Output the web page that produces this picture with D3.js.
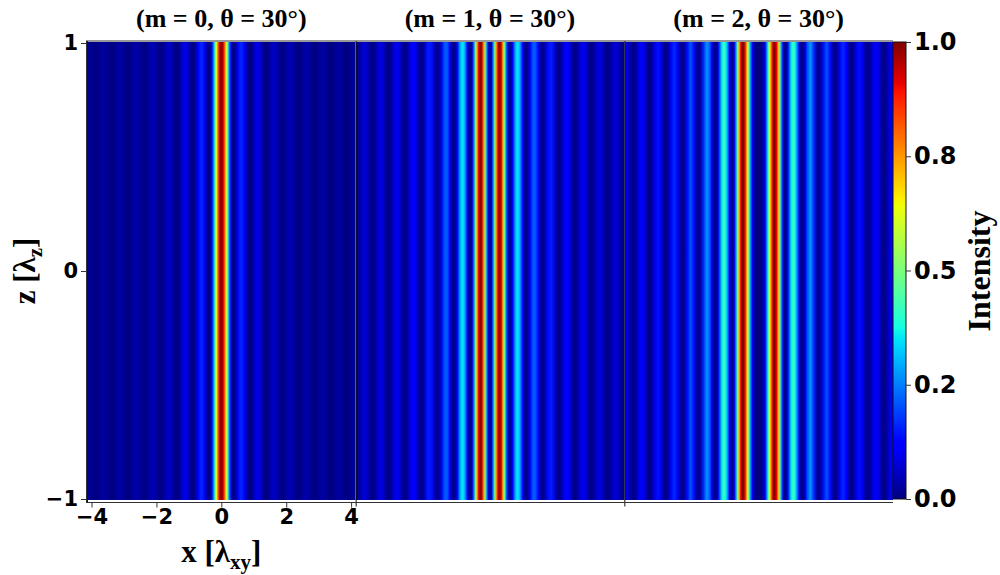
<!DOCTYPE html>
<html>
<head>
<meta charset="utf-8">
<script src="https://cdn.jsdelivr.net/npm/d3@7"></script>
<style>
  body { margin: 0; background: #fff; }
  svg { display: block; }
  .tick text { font-family: "DejaVu Sans"; font-weight: bold; font-size: 21px; fill: #000; }
  .serif { font-family: "Liberation Serif"; font-weight: bold; fill: #000; }
</style>
</head>
<body>
<script>
// sample positions across the beam, in lambda_xy
var xs = [
  -4.2, -4.1, -4.0, -3.9, -3.8, -3.7, -3.6, -3.5, -3.4, -3.3,
  -3.2, -3.1, -3.0, -2.9, -2.8, -2.7, -2.6, -2.5, -2.4, -2.3,
  -2.2, -2.1, -2.0, -1.9, -1.8, -1.7, -1.6,
  -1.5, -1.45, -1.4, -1.35, -1.3, -1.25, -1.2, -1.15, -1.1, -1.05,
  -1.0, -0.95, -0.9, -0.85, -0.8, -0.75, -0.7, -0.65, -0.6, -0.55,
  -0.5, -0.45, -0.4, -0.35, -0.3, -0.25, -0.2, -0.15, -0.1, -0.05,
  0,
  0.05, 0.1, 0.15, 0.2, 0.25, 0.3, 0.35, 0.4, 0.45, 0.5,
  0.55, 0.6, 0.65, 0.7, 0.75, 0.8, 0.85, 0.9, 0.95, 1.0,
  1.05, 1.1, 1.15, 1.2, 1.25, 1.3, 1.35, 1.4, 1.45, 1.5,
  1.6, 1.7, 1.8, 1.9, 2.0, 2.1, 2.2, 2.3, 2.4, 2.5,
  2.6, 2.7, 2.8, 2.9, 3.0, 3.1, 3.2, 3.3, 3.4, 3.5,
  3.6, 3.7, 3.8, 3.9, 4.0, 4.1, 4.2
];

// normalised intensity read across each panel (same at every z)
var intensityM0 = [
  0.019, 0.024, 0.013, 0.001, 0.006, 0.022, 0.027, 0.014, 0.001, 0.006,
  0.025, 0.032, 0.017, 0.001, 0.008, 0.030, 0.038, 0.020, 0.001, 0.009,
  0.037, 0.047, 0.025, 0.001, 0.012, 0.048, 0.062,
  0.033, 0.014, 0.001, 0.002, 0.017, 0.042, 0.068, 0.086, 0.089, 0.075,
  0.049, 0.020, 0.002, 0.004, 0.029, 0.071, 0.117, 0.152, 0.162, 0.140,
  0.093, 0.038, 0.003, 0.012, 0.084, 0.223, 0.413, 0.625, 0.817, 0.952,
  1.000,
  0.952, 0.817, 0.625, 0.413, 0.223, 0.084, 0.012, 0.003, 0.038, 0.093,
  0.140, 0.162, 0.152, 0.117, 0.071, 0.029, 0.004, 0.002, 0.020, 0.049,
  0.075, 0.089, 0.086, 0.068, 0.042, 0.017, 0.002, 0.001, 0.014, 0.033,
  0.062, 0.048, 0.012, 0.001, 0.025, 0.047, 0.037, 0.009, 0.001, 0.020,
  0.038, 0.030, 0.008, 0.001, 0.017, 0.032, 0.025, 0.006, 0.001, 0.014,
  0.027, 0.022, 0.006, 0.001, 0.013, 0.024, 0.019
];

var intensityM1 = [
  0.016, 0.001, 0.036, 0.075, 0.064, 0.018, 0.002, 0.041, 0.085, 0.073,
  0.021, 0.002, 0.048, 0.100, 0.087, 0.025, 0.002, 0.057, 0.121, 0.106,
  0.031, 0.002, 0.070, 0.152, 0.137, 0.042, 0.003,
  0.092, 0.158, 0.206, 0.220, 0.192, 0.132, 0.062, 0.011, 0.003, 0.047,
  0.133, 0.236, 0.320, 0.354, 0.323, 0.234, 0.121, 0.028, 0.002, 0.072,
  0.239, 0.474, 0.720, 0.913, 0.999, 0.949, 0.775, 0.523, 0.264, 0.071,
  0.000,
  0.071, 0.264, 0.523, 0.775, 0.949, 0.999, 0.913, 0.720, 0.474, 0.239,
  0.072, 0.002, 0.028, 0.121, 0.234, 0.323, 0.354, 0.320, 0.236, 0.133,
  0.047, 0.003, 0.011, 0.062, 0.132, 0.192, 0.220, 0.206, 0.158, 0.092,
  0.003, 0.042, 0.137, 0.152, 0.070, 0.002, 0.031, 0.106, 0.121, 0.057,
  0.002, 0.025, 0.087, 0.100, 0.048, 0.002, 0.021, 0.073, 0.085, 0.041,
  0.002, 0.018, 0.064, 0.075, 0.036, 0.001, 0.016
];

var intensityM2 = [
  0.075, 0.104, 0.062, 0.006, 0.017, 0.084, 0.119, 0.072, 0.007, 0.018,
  0.096, 0.138, 0.086, 0.010, 0.020, 0.111, 0.166, 0.107, 0.014, 0.021,
  0.133, 0.206, 0.140, 0.022, 0.022, 0.163, 0.273,
  0.202, 0.118, 0.041, 0.001, 0.020, 0.096, 0.209, 0.323, 0.400, 0.411,
  0.350, 0.237, 0.110, 0.020, 0.006, 0.090, 0.266, 0.496, 0.729, 0.909,
  0.996, 0.971, 0.848, 0.659, 0.450, 0.263, 0.126, 0.045, 0.010, 0.001,
  0.000,
  0.001, 0.010, 0.045, 0.126, 0.263, 0.450, 0.659, 0.848, 0.971, 0.996,
  0.909, 0.729, 0.496, 0.266, 0.090, 0.006, 0.020, 0.110, 0.237, 0.350,
  0.411, 0.400, 0.323, 0.209, 0.096, 0.020, 0.001, 0.041, 0.118, 0.202,
  0.273, 0.163, 0.022, 0.022, 0.140, 0.206, 0.133, 0.021, 0.014, 0.107,
  0.166, 0.111, 0.020, 0.010, 0.086, 0.138, 0.096, 0.018, 0.007, 0.072,
  0.119, 0.084, 0.017, 0.006, 0.062, 0.104, 0.075
];

var panelTitles = ["(m = 0, \u03b8 = 30\u00b0)", "(m = 1, \u03b8 = 30\u00b0)", "(m = 2, \u03b8 = 30\u00b0)"];
var xTicks = [-4, -2, 0, 2, 4];
var zTicks = [-1, 0, 1];
var cbarTicks = [0, 0.25, 0.5, 0.75, 1];
var cbarLabels = ["0.0", "0.2", "0.5", "0.8", "1.0"];

// layout
var W = 1000, H = 575;
var plotLeft = 87, plotRight = 893;
var pw = (plotRight - plotLeft) / 3;
var frameTop = 41, frameBottom = 502.5;
var cbarLeft = 893, cbarWidth = 13;

// matplotlib "jet"
var jetR = d3.scaleLinear().domain([0, 0.35, 0.66, 0.89, 1]).range([0, 0, 1, 1, 0.5]).clamp(true);
var jetG = d3.scaleLinear().domain([0, 0.125, 0.375, 0.64, 0.91, 1]).range([0, 0, 1, 1, 0, 0]).clamp(true);
var jetB = d3.scaleLinear().domain([0, 0.11, 0.34, 0.65, 1]).range([0.5, 1, 1, 0, 0]).clamp(true);
var jetBreaks = [0, 0.11, 0.125, 0.34, 0.35, 0.375, 0.64, 0.65, 0.66, 0.89, 0.91, 1];
function jet(t) {
  return d3.rgb(jetR(t) * 255, jetG(t) * 255, jetB(t) * 255).formatHex();
}
var color = d3.scaleSequential(jet).domain([0, 1]);

var x = d3.scaleLinear().domain([-4.14, 4.14]).range([0, pw]);
var y = d3.scaleLinear().domain([-1, 1]).range([499, 43]);

var svg = d3.select("body").append("svg").attr("width", W).attr("height", H);
var defs = svg.append("defs");

var panels = [intensityM0, intensityM1, intensityM2];

panels.forEach(function (vals, i) {
  var g = svg.append("g").attr("transform", "translate(" + (plotLeft + i * pw) + ",0)");

  var x0 = x(xs[0]), x1 = x(xs[xs.length - 1]);
  var grad = defs.append("linearGradient")
    .attr("id", "beam" + i)
    .attr("gradientUnits", "userSpaceOnUse")
    .attr("x1", x0).attr("x2", x1).attr("y1", 0).attr("y2", 0);
  grad.selectAll("stop").data(xs).enter().append("stop")
    .attr("offset", function (d) { return (x(d) - x0) / (x1 - x0); })
    .attr("stop-color", function (d, j) { return color(vals[j]); });

  defs.append("clipPath").attr("id", "clip" + i)
    .append("rect").attr("x", 0).attr("y", frameTop).attr("width", pw).attr("height", frameBottom - frameTop);

  g.append("rect")
    .attr("clip-path", "url(#clip" + i + ")")
    .attr("x", 0).attr("y", y(1) - 1)
    .attr("width", pw).attr("height", y(-1) - y(1) + 2)
    .attr("fill", "url(#beam" + i + ")");

  g.append("text").attr("class", "serif")
    .attr("x", pw / 2).attr("y", 27)
    .attr("text-anchor", "middle")
    .style("font-size", "26px")
    .text(panelTitles[i]);

  // panel edge
  g.append("line")
    .attr("x1", 0.5).attr("x2", 0.5)
    .attr("y1", frameTop).attr("y2", frameBottom + (i === 0 ? 0 : 4))
    .attr("stroke", "#111").attr("stroke-width", 1);
});

// frame top / bottom
svg.append("line").attr("x1", plotLeft - 1).attr("x2", cbarLeft)
  .attr("y1", frameTop).attr("y2", frameTop).attr("stroke", "#333");
svg.append("line").attr("x1", plotLeft - 1).attr("x2", cbarLeft)
  .attr("y1", frameBottom).attr("y2", frameBottom).attr("stroke", "#333");
svg.append("line").attr("x1", plotLeft - 0.5).attr("x2", plotLeft - 0.5)
  .attr("y1", frameTop).attr("y2", frameBottom).attr("stroke", "#333");

var fmt = function (d) { return d < 0 ? "\u2212" + Math.abs(d) : String(d); };

// x axis on first panel
var xAxis = svg.append("g")
  .attr("transform", "translate(" + plotLeft + "," + frameBottom + ")")
  .call(d3.axisBottom(x).tickValues(xTicks).tickSize(5).tickPadding(2).tickFormat(fmt));
xAxis.select(".domain").remove();
xAxis.selectAll(".tick line").attr("stroke", "#333");

// z axis
var zAxis = svg.append("g")
  .attr("transform", "translate(" + (plotLeft - 1) + ",0)")
  .call(d3.axisLeft(y).tickValues(zTicks).tickSize(5).tickPadding(3).tickFormat(fmt));
zAxis.select(".domain").remove();
zAxis.selectAll(".tick line").attr("stroke", "#333");

// colorbar
var cy = d3.scaleLinear().domain([0, 1]).range([499, 42]);
var cgrad = defs.append("linearGradient").attr("id", "cbar")
  .attr("x1", 0).attr("x2", 0).attr("y1", 1).attr("y2", 0);
cgrad.selectAll("stop").data(jetBreaks).enter().append("stop")
  .attr("offset", function (d) { return d; })
  .attr("stop-color", function (d) { return color(d); });
svg.append("rect")
  .attr("x", cbarLeft).attr("y", cy(1))
  .attr("width", cbarWidth).attr("height", cy(0) - cy(1))
  .attr("fill", "url(#cbar)").attr("stroke", "#111").attr("stroke-width", 1);
var cAxis = svg.append("g")
  .attr("transform", "translate(" + (cbarLeft + cbarWidth) + ",0)")
  .call(d3.axisRight(cy).tickValues(cbarTicks).tickSize(5).tickPadding(3)
    .tickFormat(function (d, i) { return cbarLabels[i]; }));
cAxis.select(".domain").remove();
cAxis.selectAll(".tick line").attr("stroke", "#333");
cAxis.selectAll(".tick text").style("font-size", "24px");

// axis titles
var xl = svg.append("text").attr("class", "serif")
  .attr("x", plotLeft + pw / 2).attr("y", 562)
  .attr("text-anchor", "middle").style("font-size", "31px");
xl.append("tspan").text("x [\u03bb");
xl.append("tspan").attr("dy", 7).style("font-size", "21px").text("xy");
xl.append("tspan").attr("dy", -7).text("]");

var zl = svg.append("text").attr("class", "serif")
  .attr("transform", "translate(35," + y(0) + ") rotate(-90)")
  .attr("text-anchor", "middle").style("font-size", "31px");
zl.append("tspan").text("z [\u03bb");
zl.append("tspan").attr("dy", 7).style("font-size", "21px").text("z");
zl.append("tspan").attr("dy", -7).text("]");

svg.append("text").attr("class", "serif")
  .attr("transform", "translate(990," + y(0) + ") rotate(-90)")
  .attr("text-anchor", "middle").style("font-size", "32px")
  .text("Intensity");
</script>
</body>
</html>
